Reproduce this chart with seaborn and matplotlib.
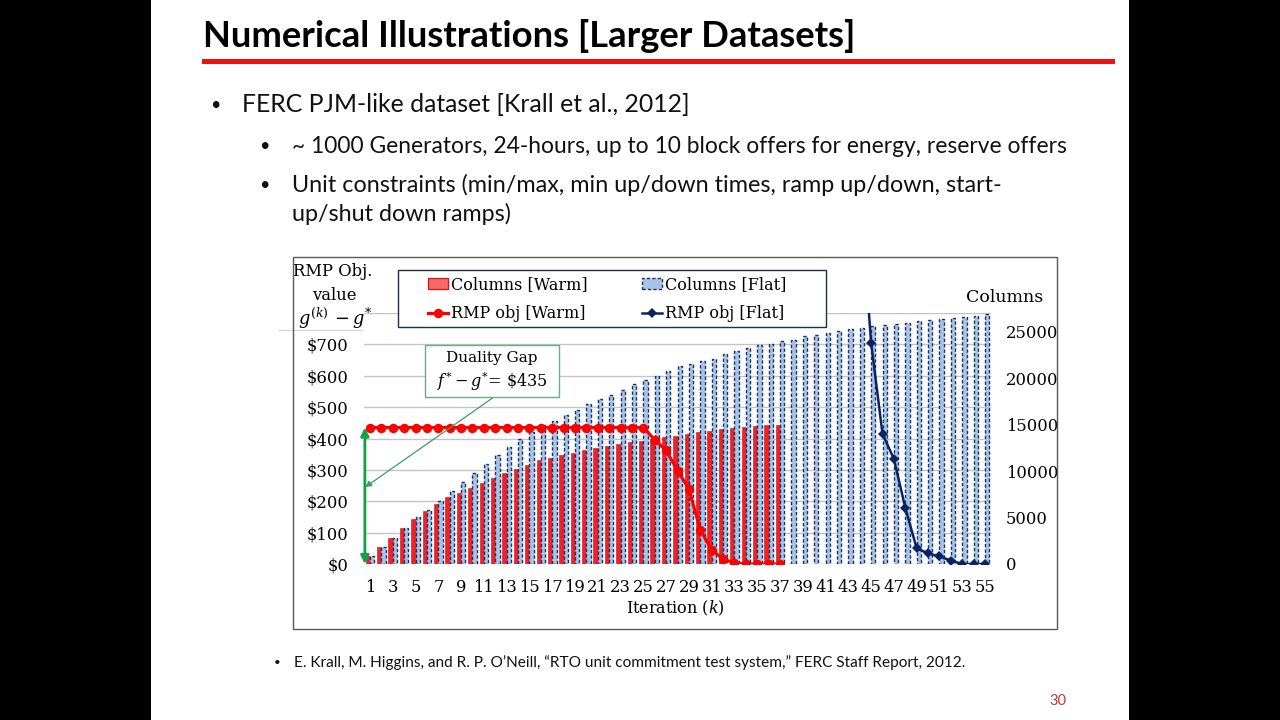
import numpy as np
import pandas as pd
import matplotlib
matplotlib.use("Agg")
import matplotlib.pyplot as plt
import matplotlib.colors as mcolors
import seaborn as sns
from matplotlib.patches import Rectangle, Patch
from matplotlib.lines import Line2D

plt.rcParams['font.family'] = ['DejaVu Serif']
plt.rcParams['mathtext.fontset'] = 'dejavuserif'

# ---------------- data ----------------
iterations = list(range(1, 56))

warm_iterations = list(range(1, 38))
columns_warm = [850, 1860, 2830, 3910, 4880, 5740, 6490, 7250, 7680, 8220,
                8760, 9290, 9830, 10230, 10660, 11200, 11420, 11740, 11990, 12210,
                12450, 12700, 12920, 13100, 13280, 13450, 13630, 13820, 14000, 14170,
                14360, 14540, 14650, 14790, 14800, 15000, 15000]

columns_flat = [850, 1860, 2830, 3850, 5020, 5850, 6820, 7850, 8860, 9830,
                10800, 11770, 12630, 13460, 14250, 14900, 15430, 16000, 16550, 17200,
                17700, 18230, 18740, 19310, 19740, 20250, 20740, 21250, 21540, 21790,
                22080, 22540, 22900, 23220, 23510, 23690, 23940, 24120, 24480, 24590,
                24840, 25020, 25230, 25380, 25560, 25700, 25810, 25960, 26130, 26200,
                26310, 26420, 26560, 26630, 26850]

rmp_obj_warm = [435, 435, 435, 435, 435, 435, 435, 435, 435, 435,
                435, 435, 435, 435, 435, 435, 435, 435, 435, 435,
                435, 435, 435, 435, 435, 396, 362, 298, 239, 109,
                45, 16, 3, 0, 0, 0, 0]

flat_line_iterations = [44, 45, 46, 47, 48, 49, 50, 51, 52, 53, 54, 55]
rmp_obj_flat = [1200, 705, 415, 335, 179, 50, 34, 24, 11, 0, 0, 0]

left_tick_values = [0, 100, 200, 300, 400, 500, 600, 700, 800]
left_tick_labels = ['$0', '$100', '$200', '$300', '$400', '$500', '$600', '$700', '']
right_tick_values = [0, 5000, 10000, 15000, 20000, 25000]
right_tick_labels = ['0', '5000', '10000', '15000', '20000', '25000']
x_tick_labels = ['1', '3', '5', '7', '9', '11', '13', '15', '17', '19', '21', '23', '25',
                 '27', '29', '31', '33', '35', '37', '39', '41', '43', '45', '47', '49',
                 '51', '53', '55']

duality_gap = 435

# ---------------- styles ----------------
RED_BAR = '#ee2228'
RED_LINE = '#ff0000'
BLUE_BAR = '#a7c4e8'
NAVY_EDGE = '#1a305e'
NAVY_LINE = '#0a2463'
GREEN = '#12a146'
GREEN_THIN = '#3a9f5c'
BOX_GREEN = '#6aae82'
SANS = 'Lato'

W, H = 1280, 720
def fx(x):
    return x / W
def fy(y):
    return 1 - y / H

fig = plt.figure(figsize=(12.8, 7.2), dpi=100, facecolor='black')
renderer = fig.canvas.get_renderer()

# slide background
fig.add_artist(Rectangle((fx(151), 0), (1129 - 151) / W, 1, transform=fig.transFigure,
                         facecolor='white', edgecolor='none', zorder=-10))
# chart frame background
fig.add_artist(Rectangle((fx(293), fy(629)), 764 / W, 372 / H, transform=fig.transFigure,
                         facecolor='white', edgecolor='none', zorder=-5))


def fit_text(x, y, s, width_px, size0, **kw):
    t = fig.text(fx(x), fy(y), s, fontsize=size0, **kw)
    bb = t.get_window_extent(renderer)
    t.set_fontsize(size0 * width_px / bb.width)
    return t

# ---------------- slide text ----------------
fit_text(203, 47, "Numerical Illustrations [Larger Datasets]", 652, 30,
         family=SANS, weight='bold', va='baseline', ha='left', color='black')
fig.add_artist(Rectangle((fx(202), fy(64)), (1115 - 202) / W, 5 / H, transform=fig.transFigure,
                         facecolor='#ee1111', edgecolor='none'))

body = fit_text(242, 112, "FERC PJM-like dataset [Krall et al., 2012]", 448, 20,
                family=SANS, va='baseline', ha='left', color='#111111')
bs = body.get_fontsize() * 0.72
fig.text(fx(215), fy(110), '•', family=SANS, fontsize=bs, ha='center', va='baseline', color='#111111')
fit_text(292, 153, "~ 1000 Generators, 24-hours, up to 10 block offers for energy, reserve offers",
         772, 20, family=SANS, va='baseline', ha='left', color='#111111')
fig.text(fx(264), fy(151), '•', family=SANS, fontsize=bs, ha='center', va='baseline', color='#111111')
fit_text(292, 192, "Unit constraints (min/max, min up/down times, ramp up/down, start-",
         710, 20, family=SANS, va='baseline', ha='left', color='#111111')
fig.text(fx(264), fy(190), '•', family=SANS, fontsize=bs, ha='center', va='baseline', color='#111111')
fit_text(292, 221, "up/shut down ramps)", 219, 20, family=SANS, va='baseline', ha='left', color='#111111')

foot = fit_text(294, 667, "E. Krall, M. Higgins, and R. P. O\u2019Neill, \u201cRTO unit commitment test system,\u201d FERC Staff Report, 2012.",
                668, 10, family=SANS, va='baseline', ha='left', color='#111111')
fig.text(fx(277), fy(666), '•', family=SANS, fontsize=foot.get_fontsize() * 0.75, ha='center',
         va='baseline', color='#111111')
fig.text(fx(1058), fy(705), '30', family=SANS, fontsize=10.5, ha='center', va='baseline',
         color='#c0392b')

# ---------------- chart ----------------
ax = fig.add_axes([fx(364.3), fy(564), 626.4 / W, 251 / H])
ax.patch.set_visible(False)
ax.set_ylim(0, 800)
ax.set_yticks(left_tick_values, labels=left_tick_labels)
ax.grid(axis='y', color='#c4c4c4', lw=1.0)
ax.grid(axis='x', visible=False)
ax.set_axisbelow(True)
for s in ax.spines.values():
    s.set_visible(False)
ax.tick_params(axis='y', length=0, pad=11.5, labelsize=11.8)
ax.tick_params(axis='x', length=0, pad=11, labelsize=11.8)

# bars (secondary axis, columns)
axb = ax.twinx()
df_bars = pd.concat([
    pd.DataFrame({'Iteration': warm_iterations, 'Columns': columns_warm, 'Run': 'Warm'}),
    pd.DataFrame({'Iteration': iterations, 'Columns': columns_flat, 'Run': 'Flat'}),
], ignore_index=True)
sns.barplot(data=df_bars, x='Iteration', y='Columns', hue='Run', order=iterations,
            hue_order=['Warm', 'Flat'], palette={'Warm': RED_BAR, 'Flat': BLUE_BAR},
            width=0.76, dodge=True, errorbar=None, saturation=1, legend=False, ax=axb)
for p in axb.patches:
    if mcolors.same_color(p.get_facecolor(), BLUE_BAR):
        p.set_edgecolor(NAVY_EDGE)
        p.set_linestyle((0, (2.4, 1.5)))
        p.set_linewidth(1.0)
    else:
        p.set_edgecolor('#c81010')
        p.set_linewidth(0.4)
axb.set_ylim(0, 27000)
axb.set_yticks(right_tick_values, labels=right_tick_labels)
axb.tick_params(axis='y', length=0, pad=11, labelsize=11.8)
axb.set_ylabel('')
axb.set_xlabel('')
for s in axb.spines.values():
    s.set_visible(False)

# lines (primary dollar axis, drawn on top)
axl = ax.twinx()
warm_pos = [iterations.index(i) for i in warm_iterations]
flat_pos = [iterations.index(i) for i in flat_line_iterations]
sns.lineplot(x=warm_pos, y=rmp_obj_warm, ax=axl, color=RED_LINE, marker='o', markersize=6.8,
             markeredgewidth=0, linewidth=2.3, errorbar=None, legend=False)
sns.lineplot(x=flat_pos, y=rmp_obj_flat, ax=axl, color=NAVY_LINE, marker='D', markersize=5.0,
             markeredgewidth=0, linewidth=1.8, errorbar=None, legend=False)
axl.set_ylim(0, 800)
axl.set_yticks([])
axl.set_ylabel('')
axl.set_xlabel('')
for s in axl.spines.values():
    s.set_visible(False)

ax.set_xlim(-0.5, len(iterations) - 0.5)
ax.set_xticks(list(range(0, len(iterations), 2)), labels=x_tick_labels)

# duality gap arrows
axl.annotate('', xy=(-0.45, 0), xytext=(-0.45, duality_gap), xycoords='data',
             arrowprops=dict(arrowstyle='<|-|>', color=GREEN, lw=2.0, mutation_scale=12,
                             shrinkA=0, shrinkB=0), annotation_clip=False, zorder=6)
axl.annotate('', xy=(-0.42, 245), xycoords='data', xytext=(fx(494), fy(397)),
             textcoords='figure fraction',
             arrowprops=dict(arrowstyle='-|>', color=GREEN_THIN, lw=0.9, mutation_scale=9,
                             shrinkA=0, shrinkB=0), annotation_clip=False, zorder=6)

# annotation box
fig.add_artist(Rectangle((fx(425), fy(397)), 134 / W, 52 / H, transform=fig.transFigure,
                         facecolor='white', edgecolor=BOX_GREEN, lw=1.0, zorder=8))
fig.text(fx(492), fy(358), 'Duality Gap', ha='center', va='center', fontsize=11, zorder=9)
fig.text(fx(492), fy(381), r'$f^{*}-g^{*}$= \$435', ha='center', va='center', fontsize=11.5, zorder=9)

# RMP obj value box
fig.add_artist(Rectangle((fx(279), fy(330)), 84 / W, 72 / H, transform=fig.transFigure,
                         facecolor='white', edgecolor='none', zorder=8))
fig.add_artist(Line2D([fx(279), fx(362)], [fy(330), fy(330)], transform=fig.transFigure,
                      color='#d9d9d9', lw=1, zorder=8.5))
fig.text(fx(333), fy(272), 'RMP Obj.', ha='center', va='center', fontsize=11.8, zorder=9)
fig.text(fx(334), fy(295), 'value', ha='center', va='center', fontsize=11.8, zorder=9)
fig.text(fx(335), fy(318), r'$g^{(k)}\,-g^{*}$', ha='center', va='center', fontsize=12.8, zorder=9)

# axis titles
fig.text(fx(675), fy(608), r'Iteration ($k$)', ha='center', va='center', fontsize=11.5, zorder=9)
fig.text(fx(1005), fy(297), 'Columns', ha='center', va='center', fontsize=12.5, zorder=9)

# legend
fig.add_artist(Rectangle((fx(398), fy(327)), 428 / W, 57 / H, transform=fig.transFigure,
                         facecolor='white', edgecolor='#1f2d50', lw=1.0, zorder=8))
handles = [
    Patch(facecolor='#f46a6a', edgecolor='#e01010', linewidth=0.9),
    Line2D([], [], color=RED_LINE, marker='o', markersize=6.8, markeredgewidth=0, lw=2.3),
    Patch(facecolor=BLUE_BAR, edgecolor=NAVY_EDGE, linestyle=(0, (2.4, 1.5)), linewidth=1.0),
    Line2D([], [], color=NAVY_LINE, marker='D', markersize=5.0, markeredgewidth=0, lw=1.8),
]
labels = ['Columns [Warm]', 'RMP obj [Warm]', 'Columns [Flat]', 'RMP obj [Flat]']
leg = fig.legend(handles, labels, ncol=2, loc='upper left', bbox_to_anchor=(fx(428), fy(276)),
                 frameon=False, borderpad=0, borderaxespad=0, handlelength=1.25,
                 handleheight=0.65, handletextpad=0.2, columnspacing=3.4, labelspacing=0.75,
                 fontsize=11.5)
leg.set_zorder(9)

# chart border
fig.add_artist(Rectangle((fx(293), fy(629)), 764 / W, 372 / H, transform=fig.transFigure,
                         fill=False, edgecolor='#5a5a5a', lw=1.0, zorder=20))

fig.savefig('out.png', dpi=100, facecolor=fig.get_facecolor())
